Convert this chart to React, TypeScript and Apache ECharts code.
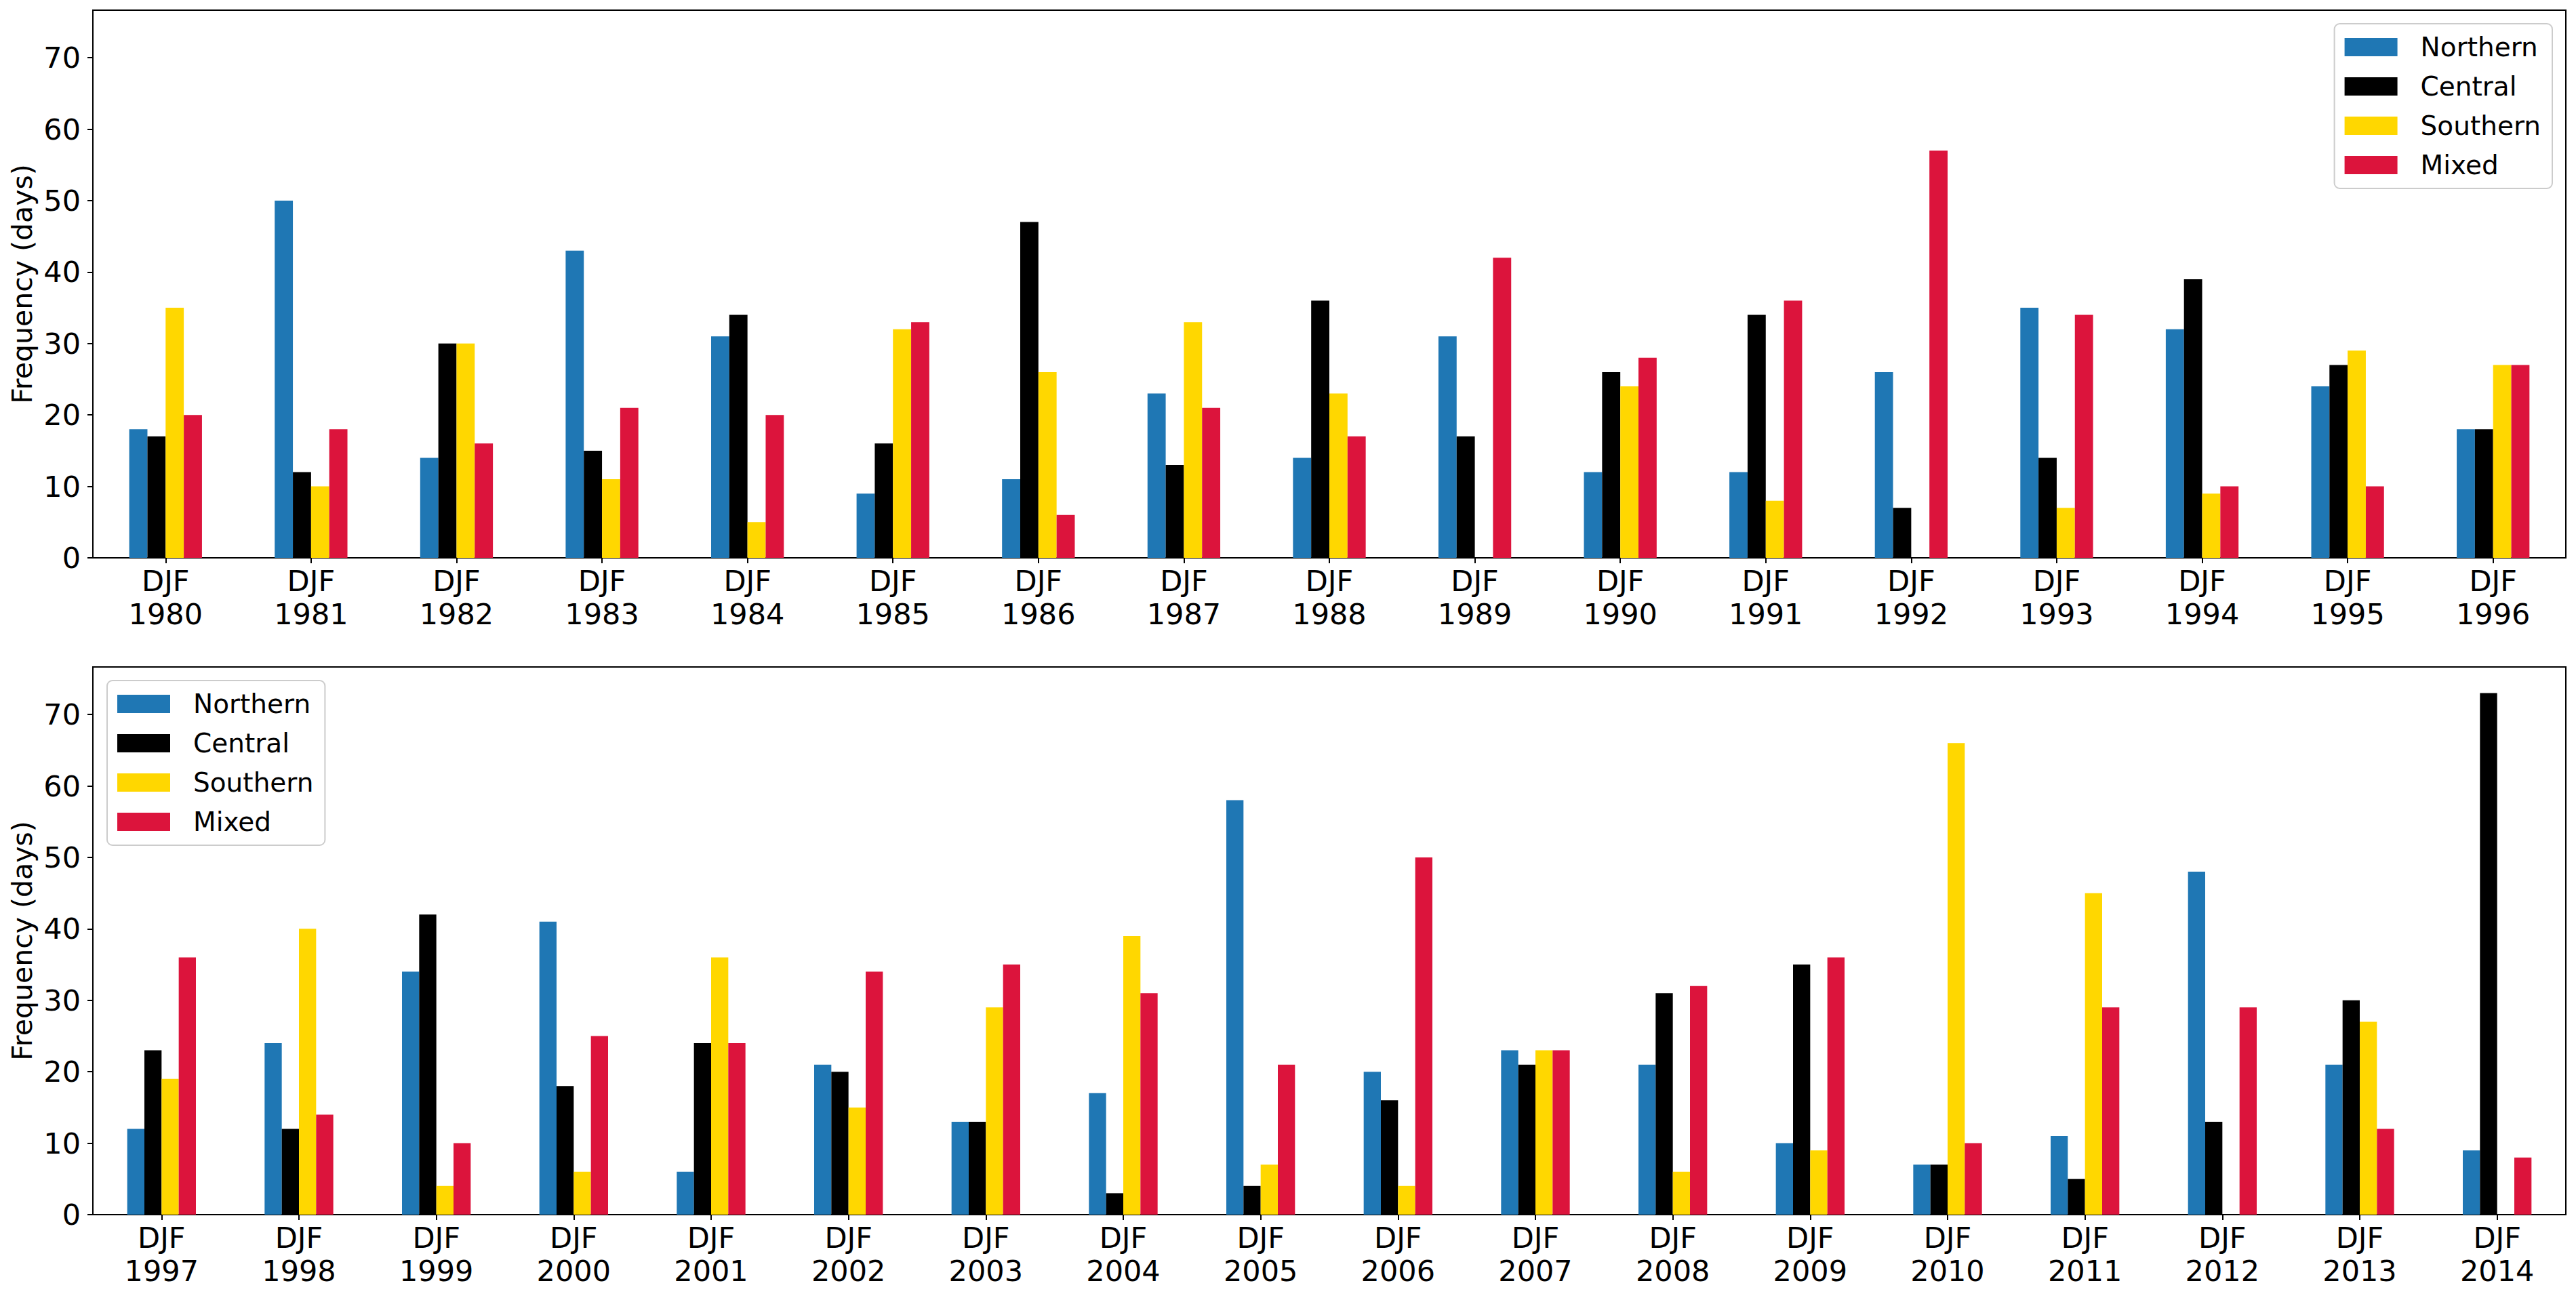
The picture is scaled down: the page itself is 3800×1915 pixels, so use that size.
import React, { useEffect, useRef } from "react";
import * as echarts from "echarts";

const yearsTop = ["1980","1981","1982","1983","1984","1985","1986","1987","1988","1989","1990","1991","1992","1993","1994","1995","1996"];
const northernTop = [18, 50, 14, 43, 31, 9, 11, 23, 14, 31, 12, 12, 26, 35, 32, 24, 18];
const centralTop = [17, 12, 30, 15, 34, 16, 47, 13, 36, 17, 26, 34, 7, 14, 39, 27, 18];
const southernTop = [35, 10, 30, 11, 5, 32, 26, 33, 23, 0, 24, 8, 0, 7, 9, 29, 27];
const mixedTop = [20, 18, 16, 21, 20, 33, 6, 21, 17, 42, 28, 36, 57, 34, 10, 10, 27];

const yearsBottom = ["1997","1998","1999","2000","2001","2002","2003","2004","2005","2006","2007","2008","2009","2010","2011","2012","2013","2014"];
const northernBottom = [12, 24, 34, 41, 6, 21, 13, 17, 58, 20, 23, 21, 10, 7, 11, 48, 21, 9];
const centralBottom = [23, 12, 42, 18, 24, 20, 13, 3, 4, 16, 21, 31, 35, 7, 5, 13, 30, 73];
const southernBottom = [19, 40, 4, 6, 36, 15, 29, 39, 7, 4, 23, 6, 9, 66, 45, 0, 27, 0];
const mixedBottom = [36, 14, 10, 25, 24, 34, 35, 31, 21, 50, 23, 32, 36, 10, 29, 29, 12, 8];

const seriesNames = ["Northern", "Central", "Southern", "Mixed"];
const seriesColors = ["#1f77b4", "#000000", "#FFD700", "#DC143C"];
const yTicks = [0, 10, 20, 30, 40, 50, 60, 70];
const yMax = 76.65;
const yLabel = "Frequency (days)";
const seasonLabel = "DJF";

const FONT = "DejaVu Sans";

export default function App() {
  const ref = useRef<HTMLDivElement>(null);
  useEffect(() => {
    if (!ref.current) return;
    const chart = echarts.init(ref.current, undefined, { renderer: "svg" });
    const topData = [northernTop, centralTop, southernTop, mixedTop];
    const bottomData = [northernBottom, centralBottom, southernBottom, mixedBottom];

    const xAxisCommon = (gridIndex: number, data: string[]) => ({
      type: "category",
      gridIndex,
      data,
      boundaryGap: true,
      axisLine: { show: true, lineStyle: { color: "#000", width: 2 } },
      axisTick: { show: true, alignWithLabel: true, length: 8, lineStyle: { color: "#000", width: 2 } },
      axisLabel: {
        color: "#000",
        fontFamily: FONT,
        fontSize: 43,
        lineHeight: 49,
        margin: 9,
        interval: 0,
        formatter: (v: string) => seasonLabel + "\n" + v,
      },
      splitLine: { show: false },
    });

    const yAxisCommon = (gridIndex: number) => ({
      type: "value",
      gridIndex,
      min: 0,
      max: yMax,
      interval: 10,
      name: yLabel,
      nameLocation: "middle",
      nameGap: 80,
      nameTextStyle: { color: "#000", fontFamily: FONT, fontSize: 41 },
      axisLine: { show: true, lineStyle: { color: "#000", width: 2 } },
      axisTick: { show: true, length: 8, customValues: yTicks, lineStyle: { color: "#000", width: 2 } },
      axisLabel: {
        color: "#000",
        fontFamily: FONT,
        fontSize: 43,
        margin: 18,
        customValues: yTicks,
        formatter: (v: number) => (yTicks.indexOf(v) >= 0 ? String(v) : ""),
      },
      splitLine: { show: false },
    });

    const series: any[] = [];
    [topData, bottomData].forEach((dataset, gi) => {
      dataset.forEach((vals, si) => {
        series.push({
          type: "bar",
          name: seriesNames[si],
          xAxisIndex: gi,
          yAxisIndex: gi,
          data: vals,
          barWidth: "12.5%",
          barGap: "0%",
          itemStyle: { color: seriesColors[si] },
          emphasis: { disabled: true },
        });
      });
    });

    const legendCommon = {
      orient: "vertical",
      data: seriesNames,
      icon: "rect",
      itemWidth: 78,
      itemHeight: 27,
      itemGap: 17,
      padding: [14, 17, 14, 15],
      backgroundColor: "rgba(255,255,255,0.8)",
      borderColor: "#cccccc",
      borderWidth: 2,
      borderRadius: 8,
      selectedMode: false,
      textStyle: {
        color: "#000",
        fontFamily: FONT,
        fontSize: 39,
        lineHeight: 41,
        padding: [0, 0, 0, 29],
      },
    };

    chart.setOption({
      animation: false,
      backgroundColor: "#ffffff",
      grid: [
        { left: 137, top: 15, width: 3648, height: 808, show: true, borderColor: "#000", borderWidth: 2, backgroundColor: "transparent" },
        { left: 137, top: 984, width: 3648, height: 808, show: true, borderColor: "#000", borderWidth: 2, backgroundColor: "transparent" },
      ],
      xAxis: [xAxisCommon(0, yearsTop), xAxisCommon(1, yearsBottom)],
      yAxis: [yAxisCommon(0), yAxisCommon(1)],
      legend: [
        { ...legendCommon, right: 35, top: 35 },
        { ...legendCommon, left: 158, top: 1004 },
      ],
      series,
    });
    return () => chart.dispose();
  }, []);
  return (
    <div
      ref={ref}
      style={{ position: "absolute", left: 0, top: 0, width: 3800, height: 1915, background: "#fff" }}
    />
  );
}
